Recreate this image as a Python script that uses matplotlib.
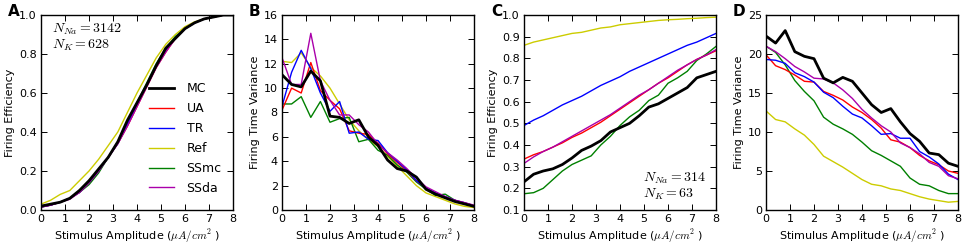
import numpy as np
import matplotlib
matplotlib.use("Agg")
import matplotlib.pyplot as plt

plt.rcParams['mathtext.fontset'] = 'cm'
plt.rcParams['font.family'] = ['DejaVu Sans']

x = [0.0, 0.4, 0.8, 1.2, 1.6, 2.0, 2.4, 2.8, 3.2, 3.6, 4.0, 4.4, 4.8, 5.2, 5.6, 6.0, 6.4, 6.8, 7.2, 7.6, 8.0]
labels = ["MC", "UA", "TR", "Ref", "SSmc", "SSda"]
colors = ["black", "red", "blue", "#cccc00", "green", "#aa00aa"]

# Panel A: Firing efficiency, N_Na=3142, N_K=628
A_MC = [0.02, 0.03, 0.04, 0.06, 0.10, 0.15, 0.21, 0.27, 0.35, 0.46, 0.55, 0.64, 0.74, 0.83, 0.88, 0.93, 0.96, 0.98, 0.99, 1.0, 1.0]
A_UA = [0.015, 0.025, 0.04, 0.06, 0.09, 0.14, 0.20, 0.27, 0.34, 0.43, 0.53, 0.63, 0.73, 0.81, 0.88, 0.93, 0.96, 0.98, 0.99, 1.0, 1.0]
A_TR = [0.015, 0.025, 0.04, 0.06, 0.09, 0.14, 0.20, 0.27, 0.34, 0.44, 0.54, 0.64, 0.74, 0.82, 0.88, 0.93, 0.96, 0.98, 0.99, 1.0, 1.0]
A_Ref = [0.03, 0.05, 0.08, 0.10, 0.15, 0.20, 0.26, 0.33, 0.40, 0.50, 0.60, 0.69, 0.78, 0.85, 0.90, 0.94, 0.965, 0.98, 0.99, 1.0, 1.0]
A_SSmc = [0.015, 0.025, 0.04, 0.06, 0.09, 0.13, 0.19, 0.27, 0.35, 0.45, 0.55, 0.65, 0.75, 0.83, 0.89, 0.93, 0.96, 0.98, 0.99, 1.0, 1.0]
A_SSda = [0.015, 0.025, 0.04, 0.055, 0.09, 0.14, 0.20, 0.27, 0.34, 0.43, 0.53, 0.63, 0.73, 0.81, 0.88, 0.93, 0.96, 0.98, 0.99, 1.0, 1.0]

# Panel B: Firing time variance, N_Na=3142, N_K=628
B_MC = [11.1, 10.3, 10.1, 11.4, 10.6, 7.7, 7.6, 7.1, 7.4, 6.0, 5.3, 4.1, 3.4, 3.2, 2.7, 1.7, 1.3, 1.0, 0.7, 0.5, 0.3]
B_UA = [8.2, 10.0, 9.6, 12.1, 9.8, 9.0, 8.3, 6.5, 6.3, 6.2, 5.5, 4.6, 3.9, 3.2, 2.4, 1.8, 1.3, 1.0, 0.8, 0.6, 0.35]
B_TR = [8.5, 11.3, 13.1, 11.6, 9.6, 8.1, 8.9, 6.3, 6.4, 5.8, 5.7, 4.7, 4.0, 3.3, 2.4, 1.8, 1.4, 1.1, 0.8, 0.6, 0.35]
B_Ref = [12.2, 12.1, 12.9, 11.7, 11.0, 10.0, 8.7, 7.4, 6.5, 5.8, 5.2, 4.4, 3.6, 2.8, 2.0, 1.4, 1.1, 0.8, 0.5, 0.3, 0.2]
B_SSmc = [8.7, 8.7, 9.3, 7.6, 8.9, 7.2, 7.5, 7.6, 5.6, 5.8, 4.9, 4.5, 3.7, 3.1, 2.3, 1.7, 1.2, 1.3, 0.8, 0.5, 0.3]
B_SSda = [12.5, 10.3, 10.3, 14.5, 10.6, 9.0, 7.8, 7.8, 7.0, 6.4, 5.4, 4.7, 4.1, 3.4, 2.6, 1.9, 1.5, 1.1, 0.8, 0.6, 0.4]

# Panel C: Firing efficiency, N_Na=314, N_K=63
C_MC = [0.23, 0.265, 0.28, 0.29, 0.31, 0.34, 0.375, 0.395, 0.42, 0.46, 0.48, 0.50, 0.535, 0.575, 0.59, 0.615, 0.64, 0.665, 0.71, 0.725, 0.74]
C_UA = [0.335, 0.355, 0.37, 0.39, 0.41, 0.435, 0.455, 0.48, 0.505, 0.535, 0.565, 0.595, 0.625, 0.655, 0.685, 0.71, 0.74, 0.77, 0.795, 0.815, 0.835]
C_TR = [0.49, 0.515, 0.535, 0.56, 0.585, 0.605, 0.625, 0.65, 0.675, 0.695, 0.715, 0.74, 0.76, 0.78, 0.80, 0.82, 0.84, 0.86, 0.875, 0.895, 0.915]
C_Ref = [0.86, 0.875, 0.885, 0.895, 0.905, 0.915, 0.92, 0.93, 0.94, 0.945, 0.955, 0.96, 0.965, 0.97, 0.975, 0.978, 0.98, 0.983, 0.985, 0.988, 0.99]
C_SSmc = [0.175, 0.18, 0.20, 0.24, 0.28, 0.31, 0.33, 0.35, 0.40, 0.44, 0.49, 0.53, 0.56, 0.605, 0.63, 0.685, 0.71, 0.74, 0.79, 0.82, 0.855]
C_SSda = [0.315, 0.345, 0.37, 0.39, 0.415, 0.44, 0.465, 0.49, 0.515, 0.54, 0.57, 0.60, 0.63, 0.655, 0.685, 0.715, 0.745, 0.77, 0.795, 0.815, 0.84]

# Panel D: Firing time variance, N_Na=314, N_K=63
D_MC = [22.3, 21.4, 23.0, 20.3, 19.7, 19.4, 16.9, 16.3, 17.0, 16.5, 15.0, 13.5, 12.5, 13.0, 11.3, 9.8, 8.8, 7.3, 7.1, 6.0, 5.6]
D_UA = [19.9, 18.5, 18.0, 17.3, 16.5, 16.4, 15.2, 14.7, 14.1, 13.2, 12.5, 11.6, 10.5, 9.0, 8.7, 8.0, 7.0, 6.3, 5.8, 5.0, 4.7]
D_TR = [19.3, 19.2, 18.8, 17.6, 17.1, 16.4, 15.1, 14.4, 13.3, 12.3, 11.8, 10.8, 9.7, 9.8, 9.2, 9.2, 7.5, 6.8, 5.9, 4.6, 3.9]
D_Ref = [12.7, 11.6, 11.3, 10.4, 9.6, 8.4, 6.9, 6.2, 5.5, 4.7, 3.9, 3.3, 3.1, 2.7, 2.5, 2.1, 1.7, 1.4, 1.2, 1.0, 1.1]
D_SSmc = [21.0, 20.2, 18.6, 16.6, 15.2, 14.0, 11.9, 11.0, 10.4, 9.7, 8.7, 7.6, 7.0, 6.3, 5.6, 4.1, 3.3, 3.1, 2.5, 2.1, 2.1]
D_SSda = [21.0, 20.3, 19.4, 18.4, 17.7, 16.9, 16.8, 16.3, 15.4, 14.3, 12.9, 11.8, 10.8, 10.0, 8.6, 8.0, 7.2, 6.1, 5.6, 4.4, 4.0]

panels = [
    ("A", [A_MC, A_UA, A_TR, A_Ref, A_SSmc, A_SSda], "Firing Efficiency", (0, 1.0), [0.0, 0.2, 0.4, 0.6, 0.8, 1.0], "%.1f"),
    ("B", [B_MC, B_UA, B_TR, B_Ref, B_SSmc, B_SSda], "Firing Time Variance", (0, 16), [0, 2, 4, 6, 8, 10, 12, 14, 16], "%d"),
    ("C", [C_MC, C_UA, C_TR, C_Ref, C_SSmc, C_SSda], "Firing Efficiency", (0.1, 1.0), [0.1, 0.2, 0.3, 0.4, 0.5, 0.6, 0.7, 0.8, 0.9, 1.0], "%.1f"),
    ("D", [D_MC, D_UA, D_TR, D_Ref, D_SSmc, D_SSda], "Firing Time Variance", (0, 25), [0, 5, 10, 15, 20, 25], "%d"),
]

W, H = 964, 244
fig = plt.figure(figsize=(W / 100, H / 100), dpi=100)
lefts = [41, 282, 524, 766]
axw = 192
top, bottom = 15, 210

for (lab, series, ylabel, ylim, yticks, fmt), l in zip(panels, lefts):
    ax = fig.add_axes([l / W, (H - bottom) / H, axw / W, (bottom - top) / H])
    order = [3, 4, 1, 2, 5, 0]
    for i in order:
        ax.plot(x, series[i], color=colors[i], lw=2.0 if i == 0 else 1.0, label=labels[i])
    ax.set_xlim(0, 8)
    ax.set_ylim(*ylim)
    ax.set_xticks(range(0, 9))
    ax.set_yticks(yticks)
    ax.set_yticklabels([fmt % v for v in yticks])
    ax.tick_params(direction="in", top=True, right=True, labelsize=8, length=4, width=0.7, pad=3)
    for s in ax.spines.values():
        s.set_linewidth(1.0)
    ax.set_ylabel(ylabel, fontsize=8, labelpad=3)
    ax.set_xlabel(r"Stimulus Amplitude ($\mu A/cm^2$ )", fontsize=8, labelpad=2)
    fig.text((l - 33) / W, (H - 12) / H, lab, fontsize=11, fontweight="bold", ha="left", va="center")
    if lab == "A":
        handles, lbls = ax.get_legend_handles_labels()
        hmap = dict(zip(lbls, handles))
        ax.legend([hmap[k] for k in labels], labels, loc="lower right", frameon=False,
                  fontsize=9, handlelength=2.0, handletextpad=1.0, labelspacing=0.55,
                  bbox_to_anchor=(1.0, 0.02))
        ax.text(0.055, 0.965, r"$N_{Na}=3142$" + "\n" + r"$N_K=628$", transform=ax.transAxes,
                fontsize=10, va="top", ha="left", linespacing=1.05)
    if lab == "C":
        ax.text(0.62, 0.04, r"$N_{Na}=314$" + "\n" + r"$N_K=63$", transform=ax.transAxes,
                fontsize=10, va="bottom", ha="left", linespacing=1.05)

fig.savefig("out.png", dpi=100)
